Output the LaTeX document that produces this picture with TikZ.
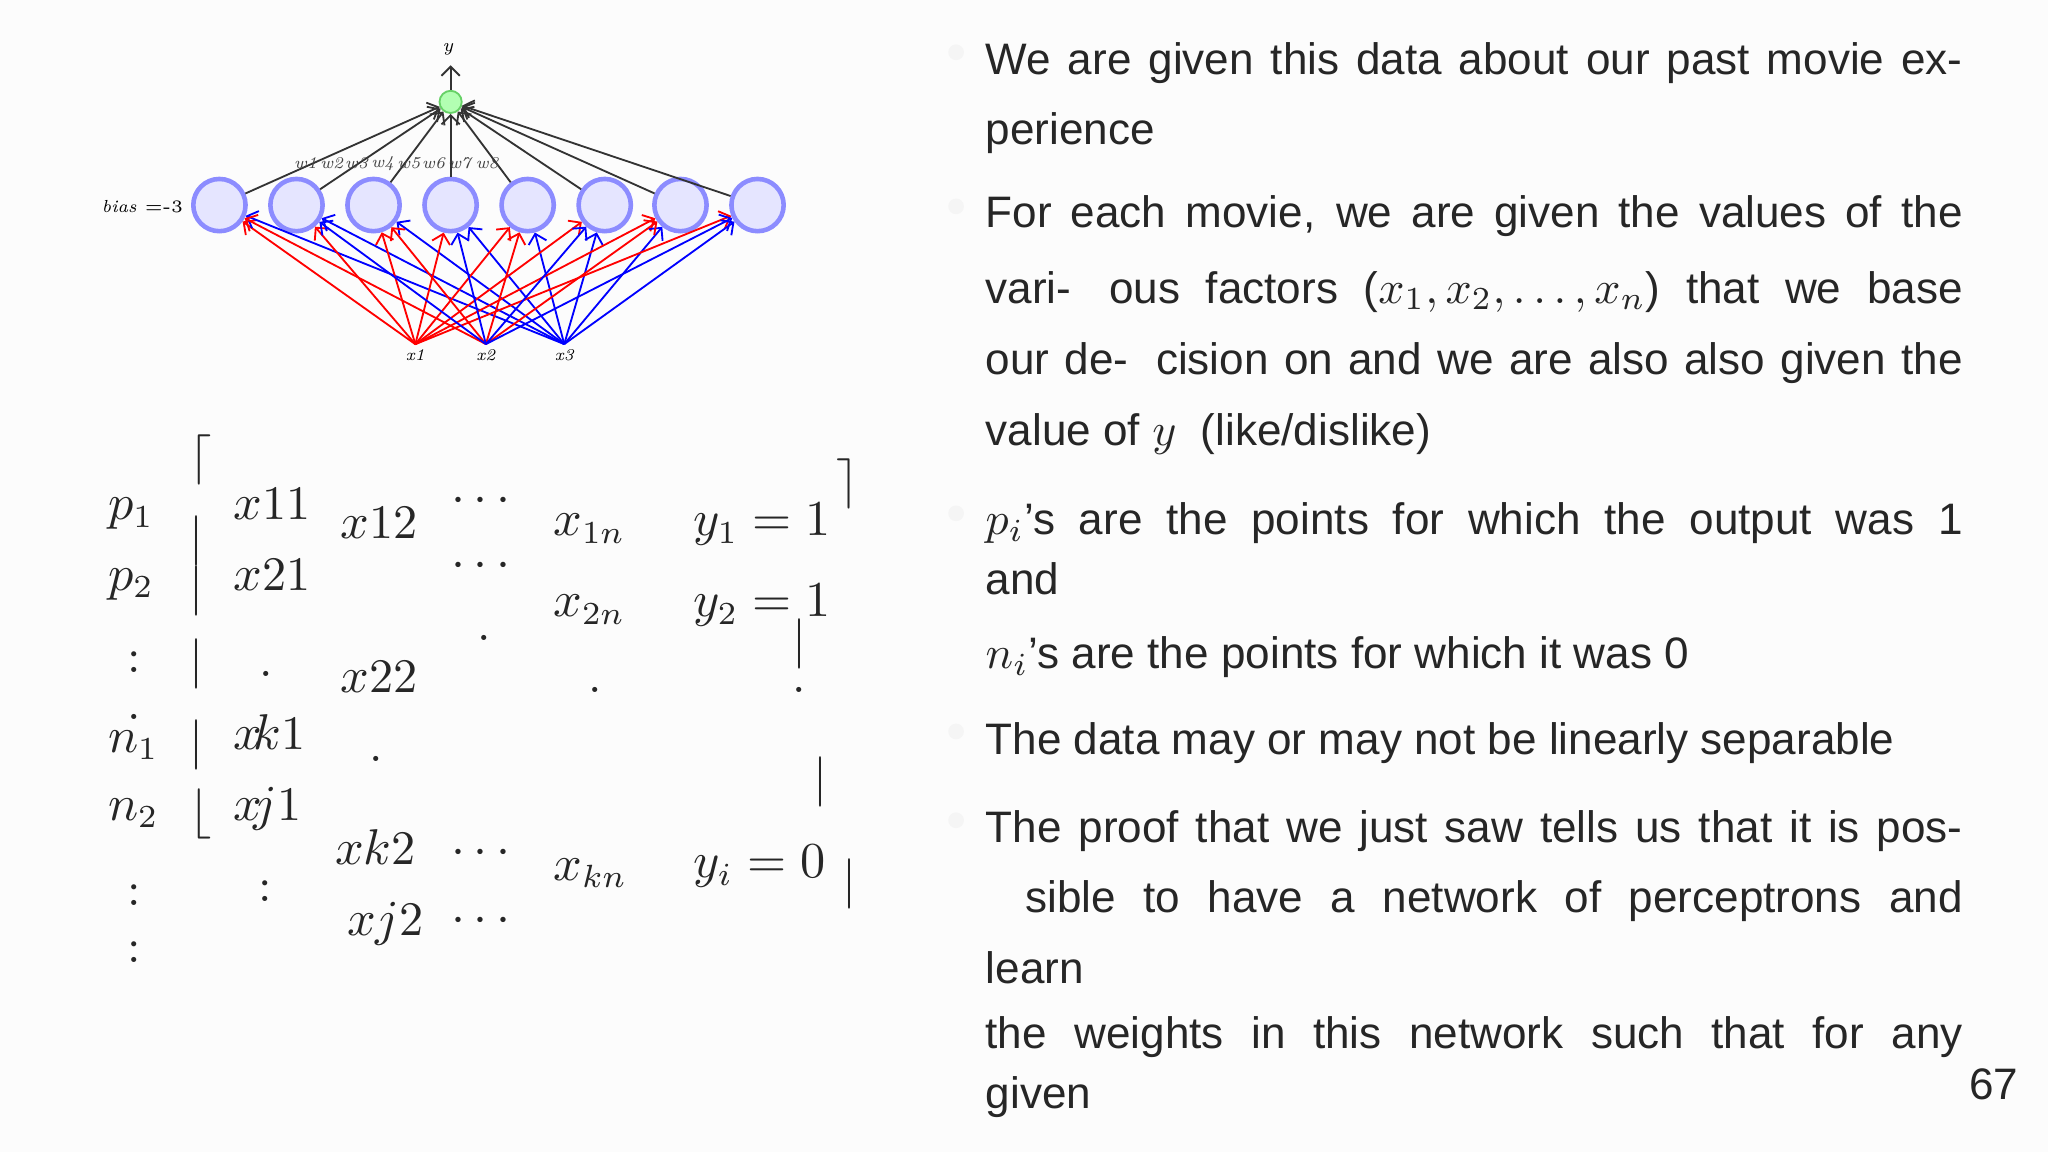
\documentclass[tikz,border=0pt]{standalone}
\usepackage{fontspec}
\setsansfont{Liberation Sans}
\usetikzlibrary{arrows.meta}
\newcommand{\jline}[1]{\makebox[74.8mm][s]{#1}}
\begin{document}
\begin{tikzpicture}[x=0.1mm,y=-0.1mm,
 hid/.style={circle,draw=blue!45,fill=blue!10,line width=1pt,minimum size=4mm,inner sep=0},
 outn/.style={circle,draw=green!70!black!60,fill=green!30,minimum size=1.7mm,inner sep=0},
 wtxt/.style={font=\fontsize{3.6}{4}\selectfont\itshape,inner sep=0,text=black!75},
 inp/.style={font=\fontsize{3.6}{5}\selectfont\itshape,inner sep=1pt},
 rd/.style={red,line width=0.4pt,-{Straight Barb[length=2pt]}},
 bl/.style={blue,line width=0.4pt,-{Straight Barb[length=2pt]}},
 bk/.style={black!80,line width=0.4pt,-{Straight Barb[length=2pt]}},
 bt/.style={font=\sffamily\fontsize{9.6}{12}\selectfont,anchor=base west,inner sep=0,text=black!85},
 mt/.style={font=\fontsize{10.5}{12}\selectfont,anchor=base west,inner sep=0,text=black!85},
 dot/.style={circle,fill=black!4,minimum size=1.2mm,inner sep=0}]
\fill[black!1] (0,0) rectangle (1568,882);
\useasboundingbox (0,0) rectangle (1568,882);
% network
\node[outn] (o) at (345,78) {};
\node[inner sep=0,font=\fontsize{4}{5}\selectfont\itshape] (y) at (343,38) {y};
\coordinate (yt) at (345,50);
\draw[bk] (o) -- (yt);
\foreach \i/\x in {1/168,2/227,3/286,4/345,5/404,6/463,7/521,8/580}{
  \node[hid] (h\i) at (\x,157) {};
  \draw[bk] (h\i) -- (o);
}
\foreach \i/\x in {1/234,2/254,3/273,4/293,5/313,6/332,7/352,8/373}
  \node[wtxt] (w\i) at (\x,125) {w\i};
\node[inner sep=0,font=\fontsize{3.8}{5}\selectfont] (bias) at (109,158) {\textit{bias} =-3};
\node[inp] (x1) at (318,272) {x1};
\node[inp] (x2) at (372,272) {x2};
\node[inp] (x3) at (432,272) {x3};
\foreach \i in {1,...,8}{
  \draw[rd] (x1.north) -- (h\i);
  \draw[bl] (x3.north) -- (h\i);
}
\foreach \i in {1,3,5,7}{\draw[rd] (x2.north) -- (h\i);}
\foreach \i in {2,4,6,8}{\draw[bl] (x2.north) -- (h\i);}
% matrix
\node[mt] (p1) at (82,398) {$p_1$};
\node[mt] (p2) at (82,452) {$p_2$};
\node[mt] (c1) at (97,515) {:};
\node[mt] (c2) at (97,551) {.};
\node[mt] (n1) at (82,576) {$n_1$};
\node[mt] (n2) at (82,628) {$n_2$};
\node[mt] (c3) at (97,693) {:};
\node[mt] (c4) at (97,737) {:};
\node[mt] (b1) at (144,362) {$\lceil$};
\node[mt] (b2) at (144,424) {$|$};
\node[mt] (b3) at (144,462) {$|$};
\node[mt] (b4) at (144,518) {$|$};
\node[mt] (b5) at (144,580) {$|$};
\node[mt] (b6) at (144,633) {$\lfloor$};
\node[mt] (a11) at (178,398) {$x$11};
\node[mt] (a21) at (178,452) {$x$21};
\node[mt] (ad) at (198,518) {.};
\node[mt] (ak1) at (178,574) {$x\!k$1};
\node[mt] (aj1) at (178,628) {$x\!j$1};
\node[mt] (acol) at (197,690) {:};
\node[mt] (a12) at (260,412) {$x$12};
\node[mt] (a22) at (260,530) {$x$22};
\node[mt] (ad2) at (282,583) {.};
\node[mt] (ak2) at (256,662) {$xk$2};
\node[mt] (aj2) at (265,716) {$xj$2};
\node[mt] (d1) at (345,392) {$\cdots$};
\node[mt] (d2) at (345,442) {$\cdots$};
\node[mt] (d3) at (365,490) {.};
\node[mt] (d4) at (345,662) {$\cdots$};
\node[mt] (d5) at (345,714) {$\cdots$};
\node[mt] (a1n) at (423,410) {$x_{1n}$};
\node[mt] (a2n) at (423,472) {$x_{2n}$};
\node[mt] (d6) at (450,530) {.};
\node[mt] (akn) at (423,674) {$x_{kn}$};
\node[mt] (y1) at (530,410) {$y_1 = 1$};
\node[mt] (y2) at (530,472) {$y_2 = 1$};
\node[mt] (yi) at (530,672) {$y_i = 0$};
\node[mt] (r1) at (640,380) {$\rceil$};
\node[mt] (r2) at (606,503) {$|$};
\node[mt] (r3) at (606,530) {.};
\node[mt] (r4) at (622,608) {$|$};
\node[mt] (r5) at (644,686) {$|$};
% text
\foreach \yy in {40,158,393,560,628}{\node[dot] at (732,\yy) {};}
\node[bt] (t1) at (754,57) {\jline{We are given this data about our past movie ex-}};
\node[bt] (t2) at (754,111) {perience};
\node[bt] (t3) at (754,174) {\jline{For each movie, we are given the values of the}};
\node[bt] (t4) at (754,232) {\jline{vari-\; ous factors ($x_1, x_2, \ldots, x_n$) that we base}};
\node[bt] (t5) at (754,287) {\jline{our de-\; cision on and we are also also given the}};
\node[bt] (t6) at (754,341) {value of $y$\; (like/dislike)};
\node[bt] (t7) at (754,409) {\jline{$p_i$'s are the points for which the output was 1}};
\node[bt] (t8) at (754,455) {and};
\node[bt] (t9) at (754,512) {$n_i$'s are the points for which it was 0};
\node[bt] (t10) at (754,578) {The data may or may not be linearly separable};
\node[bt] (t11) at (754,645) {\jline{The proof that we just saw tells us that it is pos-}};
\node[bt] (t12) at (754,699) {\jline{\; sible to have a network of perceptrons and}};
\node[bt] (t13) at (754,753) {learn};
\node[bt] (t14) at (754,803) {\jline{the weights in this network such that for any}};
\node[bt] (t15) at (754,849) {given};
\node[bt] (pg) at (1507,842) {67};
\end{tikzpicture}
\end{document}
